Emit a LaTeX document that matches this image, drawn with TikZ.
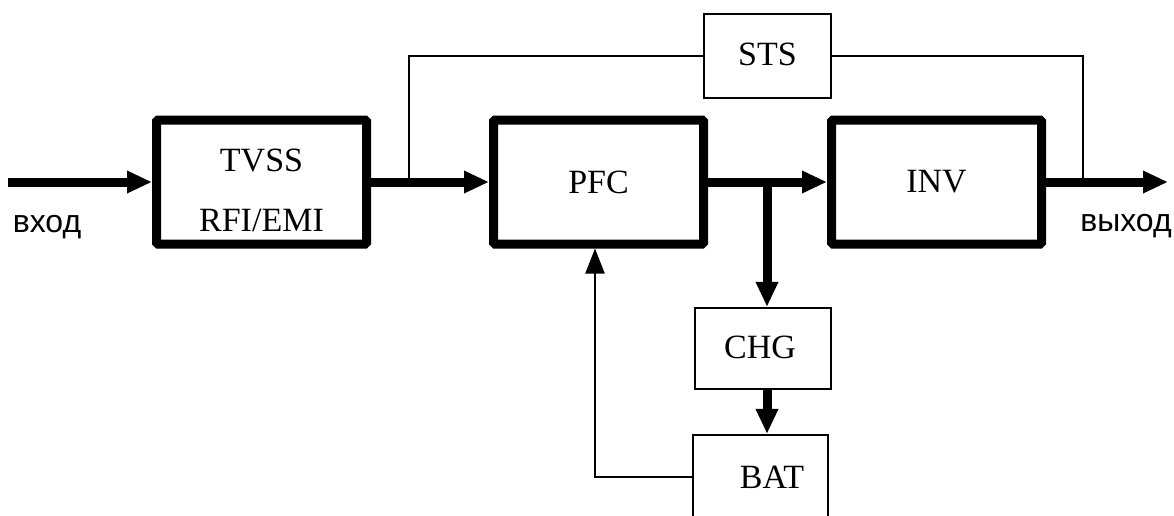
\documentclass[tikz,border=0pt]{standalone}
\usepackage{fontspec}
\setmainfont{Liberation Serif}
\newfontfamily\labelfont{Liberation Sans}
\usetikzlibrary{arrows.meta}
\begin{document}
\begin{tikzpicture}[x=1pt,y=-1pt,
  bigbox/.style={draw,line width=9pt,rounded corners=1.5pt,minimum width=210pt,minimum height=124pt,inner sep=0pt},
  smallbox/.style={draw,line width=2.2pt,inner sep=0pt},
  boxtext/.style={font=\fontsize{34}{60}\selectfont,align=center,inner sep=0pt},
  sidetext/.style={font=\labelfont\fontsize{32}{36}\selectfont,inner sep=0pt,anchor=base},
  mainline/.style={line width=9pt,-{Triangle[length=25pt,width=21pt]}},
  thinline/.style={line width=2.2pt},
  thinarrow/.style={line width=2.2pt,-{Triangle[length=25pt,width=19pt]}}
]
\clip (0,0) rectangle (1174,515);
\fill[white] (0,0) rectangle (1174,515);
% boxes
\node[bigbox] (tvss) at (261.5,182) {};
\node[boxtext] at ([yshift=-8pt]tvss.center) {TVSS\\RFI/EMI};
\node[bigbox] (pfc) at (598.5,182) {};
\node[boxtext] at (pfc.center) {PFC};
\node[bigbox] (inv) at (936.5,182) {};
\node[boxtext] at (inv.center) {INV};
\node[smallbox,minimum width=127pt,minimum height=84pt] (sts) at (767.5,56) {};
\node[boxtext] at ([yshift=2pt]sts.center) {STS};
\node[smallbox,minimum width=136pt,minimum height=81pt] (chg) at (763,348.5) {};
\node[boxtext] at ([xshift=-3pt,yshift=1pt]chg.center) {CHG};
\node[smallbox,minimum width=135pt,minimum height=130pt] (bat) at (760.5,500) {};
\node[boxtext] at (772,477) {BAT};
% coordinates
\coordinate (in) at (8,182);
\coordinate (out) at (1168,182);
\coordinate (j1) at (409,182);
\coordinate (j2) at (767,182);
\coordinate (j3) at (1083,182);
\coordinate (fb) at (595,477);
% main path
\draw[mainline] (in) -- (tvss.west);
\draw[mainline] (tvss.east) -- (pfc.west);
\draw[mainline] (pfc.east) -- (inv.west);
\draw[mainline] (inv.east) -- (out);
\draw[mainline] (j2) -- (j2 |- chg.north);
\draw[mainline] (chg.south -| j2) -- (bat.north -| j2);
% bypass through STS
\draw[thinline] (j1) |- (sts.west);
\draw[thinline] (sts.east) -| (j3);
% battery feedback
\draw[thinarrow] (bat.west |- fb) -- (fb) -- (fb |- pfc.south);
% labels
\node[sidetext] (vhod) at (47,232) {вход};
\node[sidetext] (vyhod) at (1126,231) {выход};
\end{tikzpicture}
\end{document}
